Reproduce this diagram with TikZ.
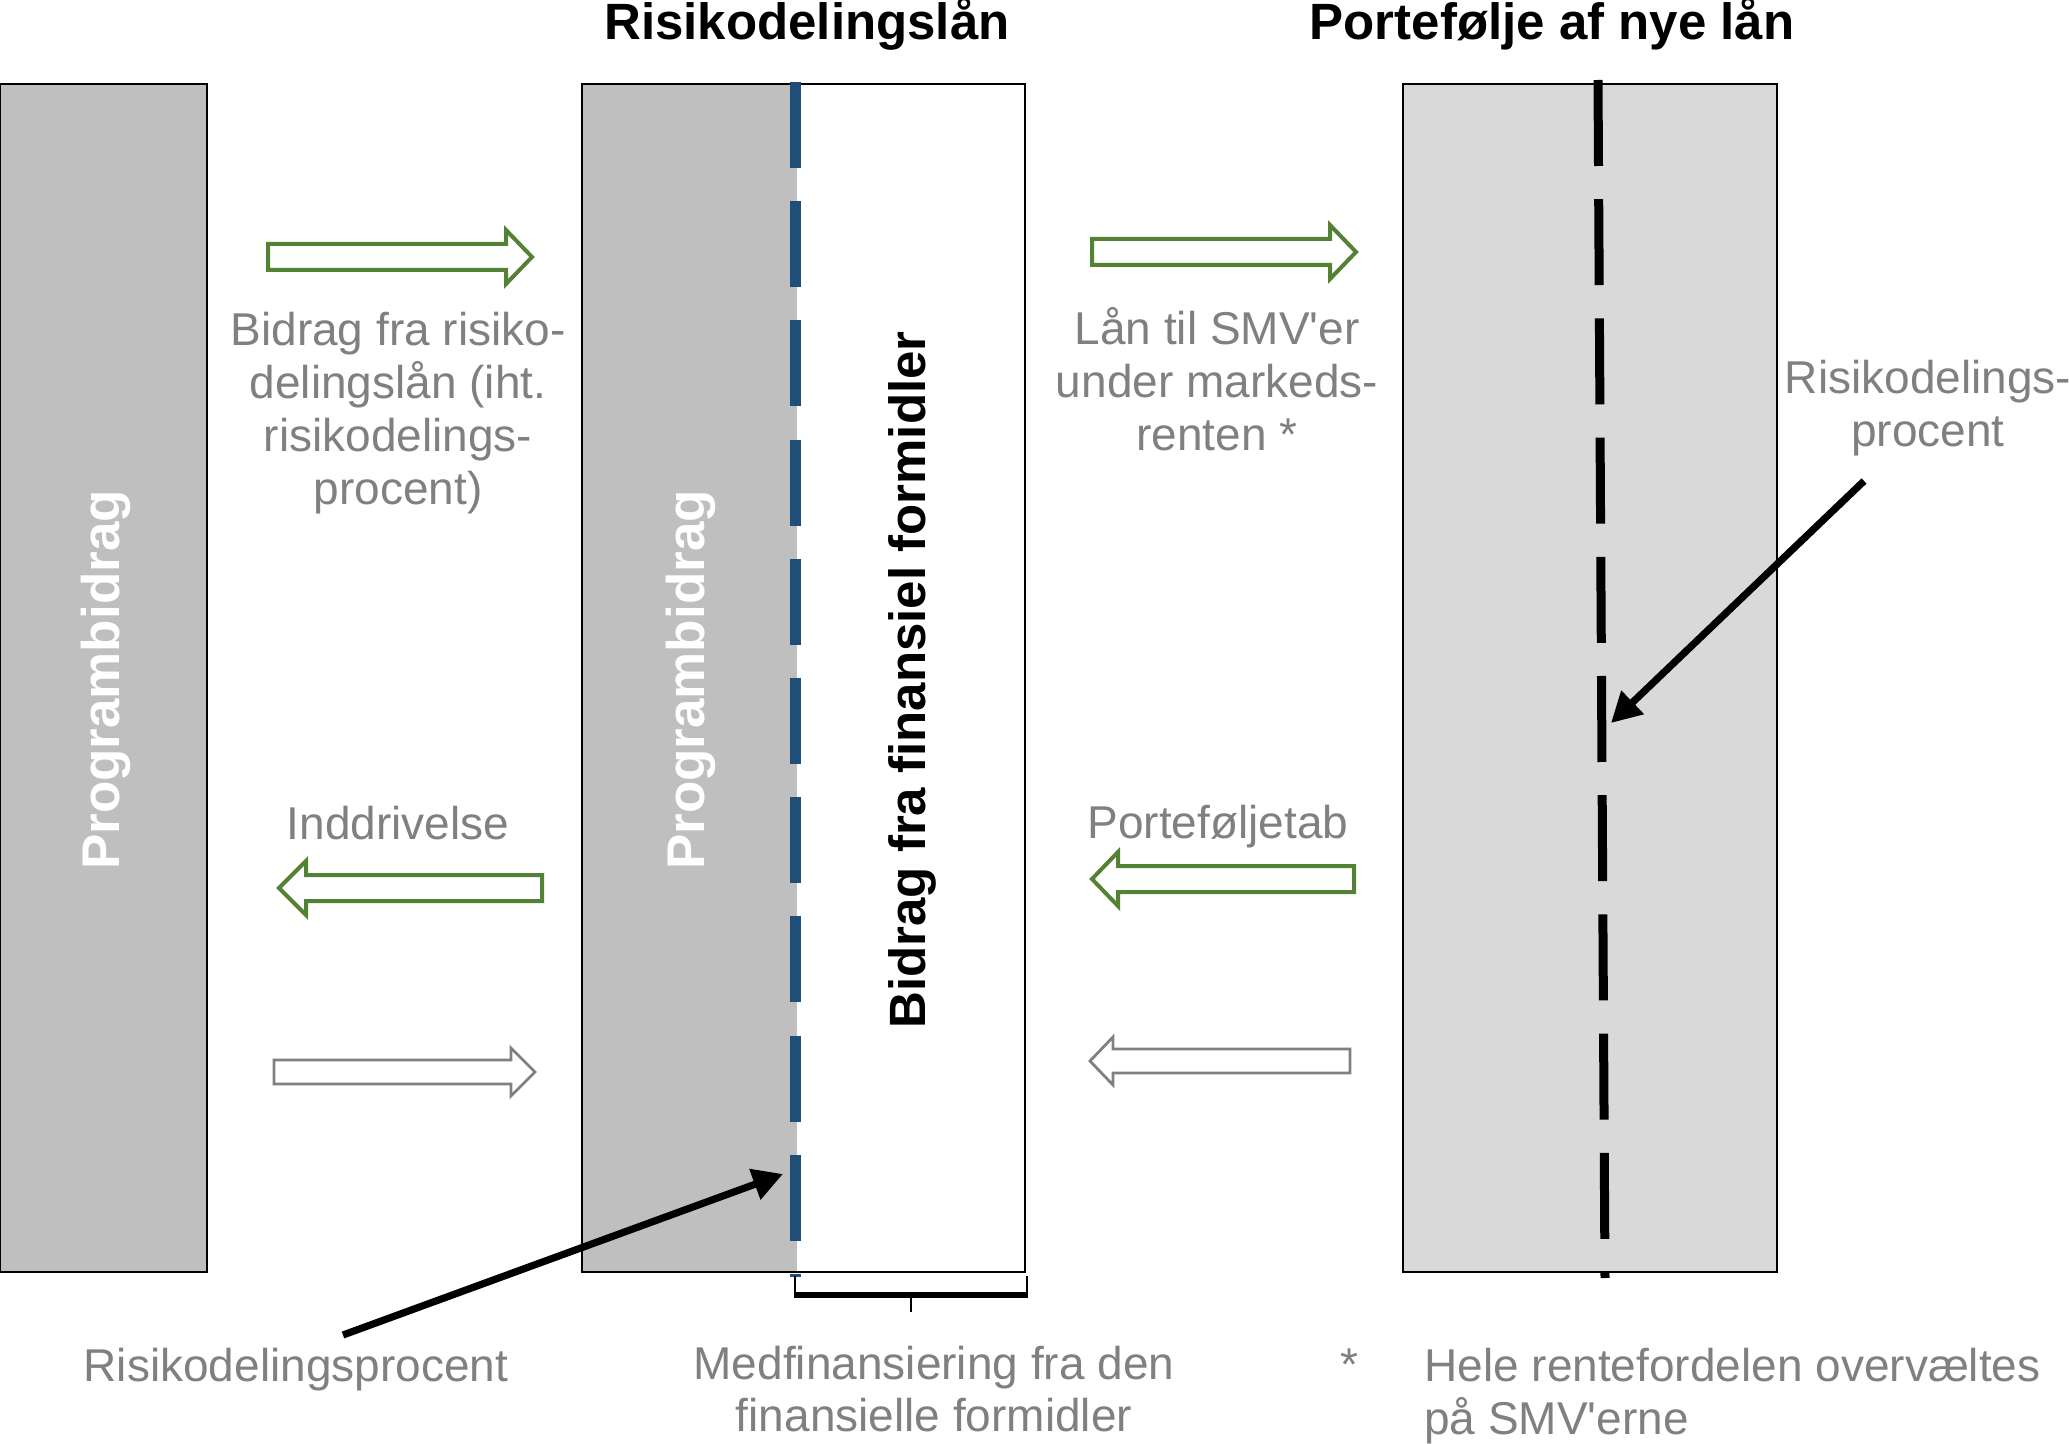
\documentclass[tikz,border=0pt]{standalone}
\usepackage{fontspec}
\setmainfont{Liberation Sans}[Ligatures=TeXOff]
\usetikzlibrary{arrows.meta}
\definecolor{boxgray}{HTML}{BFBFBF}
\definecolor{lightbox}{HTML}{D9D9D9}
\definecolor{txtgray}{HTML}{808080}
\definecolor{agreen}{HTML}{548235}
\definecolor{dblue}{HTML}{1F4E79}
\begin{document}
\begin{tikzpicture}[x=0.5pt,y=-0.5pt,
  lbl/.style={text=txtgray, font=\fontsize{23pt}{26.4pt}\selectfont, align=center, inner sep=0},
  ttl/.style={font=\bfseries\fontsize{25.5pt}{30pt}\selectfont, inner sep=0, anchor=base},
  vert/.style={rotate=90, font=\bfseries\fontsize{26.5pt}{30pt}\selectfont, inner sep=0},
  col/.style={draw=black, line width=1.2pt, inner sep=0, minimum height=594pt},
  garrow/.style={draw=agreen, line width=2pt, fill=white},
  parrow/.style={draw=txtgray, line width=1.4pt, fill=white},
  pointer/.style={line width=3.6pt, -{Triangle[length=15pt,width=15.5pt]}},
  dashline/.style={dash pattern=on 43pt off 16.6pt}
]
\useasboundingbox (0,0) rectangle (2069,1444);

% left column
\node[col, fill=boxgray, minimum width=103.5pt] (leftcol) at (103.5,678) {};
\node[vert, text=white] (pb1) at (106,680) {Programbidrag};

% middle column
\fill[boxgray] (582,84) rectangle (797,1272);
\node[col, minimum width=221.5pt] (midcol) at (803.5,678) {};
\draw[dblue, line width=5.5pt, dashline] (795.5,82) -- (795.5,1277);
\node[vert, text=white] (pb2) at (691,680) {Programbidrag};
\node[vert, font=\bfseries\fontsize{25.5pt}{30pt}\selectfont] (bf) at (912,680) {Bidrag fra finansiel formidler};

% right column
\node[col, fill=lightbox, minimum width=187pt] (rightcol) at (1590,678) {};
\draw[black, line width=4.5pt, dashline] (1598,80) -- (1605,1278);

% titles
\node[ttl] (t1) at (807,40) {Risikodelingslån};
\node[ttl] (t2) at (1552,40) {Portefølje af nye lån};

% block arrows
\draw[garrow] (268,244) -- (506,244) -- (506,230) -- (532,257) -- (506,284) -- (506,270) -- (268,270) -- cycle;
\draw[garrow] (1092,239) -- (1330,239) -- (1330,225) -- (1356,252) -- (1330,279) -- (1330,265) -- (1092,265) -- cycle;
\draw[garrow] (542,875) -- (306,875) -- (306,861) -- (279,888) -- (306,915) -- (306,901) -- (542,901) -- cycle;
\draw[garrow] (1354,866) -- (1118,866) -- (1118,852) -- (1092,879) -- (1118,906) -- (1118,892) -- (1354,892) -- cycle;
\draw[parrow] (274,1060) -- (511,1060) -- (511,1048) -- (535,1072) -- (511,1096) -- (511,1084) -- (274,1084) -- cycle;
\draw[parrow] (1350,1049) -- (1113,1049) -- (1113,1037) -- (1090,1061) -- (1113,1085) -- (1113,1073) -- (1350,1073) -- cycle;

% labels
\node[lbl] (l1) at (398,413) {Bidrag fra risiko-\\delingslån (iht.\\risikodelings-\\procent)};
\node[lbl] (l2) at (1217,379) {Lån til SMV'er\\under markeds-\\renten *};
\node[lbl] (l3) at (1928,408) {Risikodelings-\\procent};
\node[lbl] (l4) at (398,823) {Inddrivelse};
\node[lbl] (l5) at (1218,827) {Porteføljetab};
\node[lbl] (l6) at (296,1370) {Risikodelingsprocent};
\node[lbl] (l7) at (934,1389) {Medfinansiering fra den\\finansielle formidler};
\node[lbl] (l8) at (1349,1365) {*};
\node[lbl, anchor=west, align=left] (l9) at (1424,1396) {Hele rentefordelen overvæltes\\på SMV'erne};

% pointers
\coordinate (p1s) at (343,1335);
\coordinate (p1e) at (783,1174);
\draw[pointer] (p1s) -- (p1e);
\coordinate (p2s) at (1864,481);
\coordinate (p2e) at (1611,723);
\draw[pointer] (p2s) -- (p2e);

% brace
\coordinate (bl) at (795,1276);
\coordinate (br) at (1027,1276);
\draw[line width=1.2pt] (bl) -- (795,1295);
\draw[line width=1.2pt] (br) -- (1027,1295);
\draw[line width=3pt] (794,1295) -- (1028,1295);
\draw[line width=1.2pt] (911,1295) -- (911,1312);
\end{tikzpicture}
\end{document}
